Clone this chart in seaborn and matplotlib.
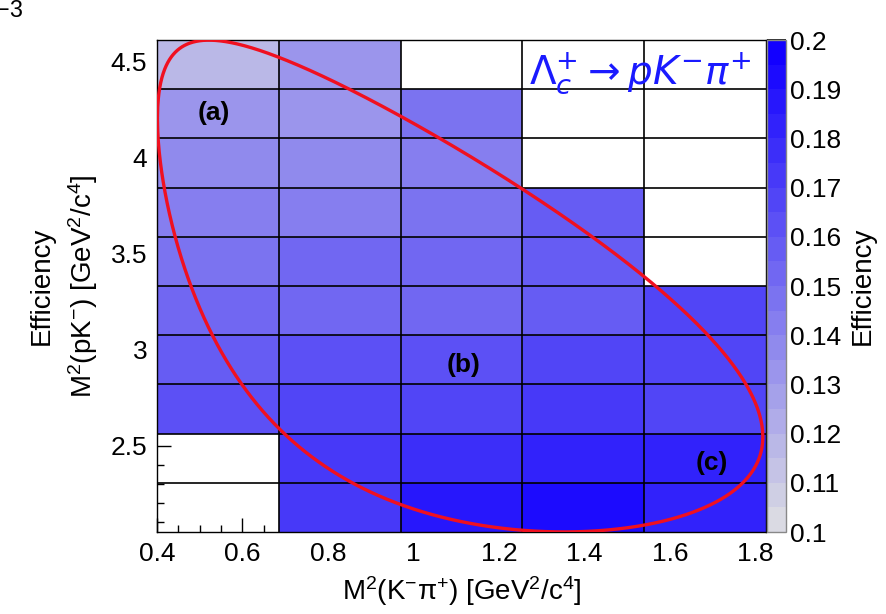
import numpy as np
import pandas as pd
import matplotlib
matplotlib.use("Agg")
import matplotlib.pyplot as plt
from matplotlib.colors import ListedColormap
import seaborn as sns

# ---------------- data ----------------
# bin edges of the efficiency map
x_edges = [0.40, 0.685, 0.97, 1.255, 1.54, 1.825]          # M^2(K- pi+)
y_edges = [2.050, 2.306, 2.562, 2.818, 3.074, 3.330,
           3.586, 3.842, 4.098, 4.354, 4.610]               # M^2(p K-)

# efficiency per cell, rows = y bins (bottom -> top), cols = x bins (left -> right)
# None = empty cell
eff_row0 = [None, 0.174, 0.188, 0.191, 0.181]
eff_row1 = [None, 0.173, 0.177, 0.182, 0.181]
eff_row2 = [0.163, 0.166, 0.166, 0.170, 0.169]
eff_row3 = [0.159, 0.160, 0.160, 0.165, 0.166]
eff_row4 = [0.153, 0.154, 0.154, 0.159, 0.165]
eff_row5 = [0.150, 0.152, 0.155, 0.157, None]
eff_row6 = [0.144, 0.145, 0.149, 0.157, None]
eff_row7 = [0.138, 0.139, 0.144, None, None]
eff_row8 = [0.133, 0.133, 0.149, None, None]
eff_row9 = [0.120, 0.133, None, None, None]
eff_rows = [eff_row0, eff_row1, eff_row2, eff_row3, eff_row4,
            eff_row5, eff_row6, eff_row7, eff_row8, eff_row9]

cbar_ticks = [0.10, 0.11, 0.12, 0.13, 0.14, 0.15, 0.16, 0.17, 0.18, 0.19, 0.20]
x_major = [0.4, 0.6, 0.8, 1.0, 1.2, 1.4, 1.6, 1.8]
y_major = [2.5, 3.0, 3.5, 4.0, 4.5]

# particle masses (GeV/c^2) for the Dalitz-plot kinematic boundary
m_Lc = 2.28646
m_p = 0.93827
m_K = 0.49368
m_pi = 0.13957

# ---------------- build table ----------------
xc = [(a + b) / 2 for a, b in zip(x_edges[:-1], x_edges[1:])]
yc = [(a + b) / 2 for a, b in zip(y_edges[:-1], y_edges[1:])]
recs = []
for j, row in enumerate(eff_rows):
    for i, v in enumerate(row):
        if v is not None:
            recs.append({"mkpi": xc[i], "mpk": yc[j], "eff": v})
df = pd.DataFrame(recs)

# ---------------- style ----------------
sns.set_theme(style="white")
plt.rcParams["font.family"] = ["Liberation Sans", "DejaVu Sans"]
plt.rcParams["mathtext.fontset"] = "custom"
plt.rcParams["mathtext.rm"] = "Liberation Sans"
plt.rcParams["mathtext.it"] = "Liberation Sans:italic"
plt.rcParams["mathtext.bf"] = "Liberation Sans:bold"
for k in ["text.color", "axes.labelcolor", "xtick.color", "ytick.color"]:
    plt.rcParams[k] = "black"

c0 = np.array([0.855, 0.855, 0.890])
c1 = np.array([0.070, 0.000, 1.000])
cmap = ListedColormap([tuple(c0 + (c1 - c0) * k / 19) for k in range(20)])

fig = plt.figure(figsize=(8.87, 6.14), dpi=100)
ax = fig.add_axes([157 / 887, 82 / 614, 609 / 887, 492 / 614])
cax = fig.add_axes([767 / 887, 82 / 614, 19 / 887, 492 / 614])

sns.histplot(data=df, x="mkpi", y="mpk", weights="eff",
             bins=[x_edges, y_edges], cmap=cmap, vmin=0.10, vmax=0.20,
             cbar=True, cbar_ax=cax, ax=ax)

# bin borders
for xe in x_edges[1:-1]:
    ax.axvline(xe, color="black", lw=1.2, zorder=3)
for ye in y_edges[1:-1]:
    ax.axhline(ye, color="black", lw=1.2, zorder=3)

# Dalitz boundary
s = np.linspace((m_K + m_pi) ** 2, (m_Lc - m_p) ** 2, 2000)
rs = np.sqrt(s)
EK = (s - m_pi ** 2 + m_K ** 2) / (2 * rs)
Ep = (m_Lc ** 2 - s - m_p ** 2) / (2 * rs)
pK = np.sqrt(np.clip(EK ** 2 - m_K ** 2, 0, None))
pp = np.sqrt(np.clip(Ep ** 2 - m_p ** 2, 0, None))
hi = (EK + Ep) ** 2 - (pK - pp) ** 2
lo = (EK + Ep) ** 2 - (pK + pp) ** 2
bx = np.concatenate([s, s[::-1], s[:1]])
by = np.concatenate([hi, lo[::-1], hi[:1]])
sns.lineplot(x=bx, y=by, sort=False, estimator=None, color="#f01020",
             lw=2.4, ax=ax, zorder=5)

ax.set_xlim(x_edges[0], x_edges[-1])
ax.set_ylim(y_edges[0], y_edges[-1])
ax.set_xticks(x_major)
ax.set_xticklabels(["0.4", "0.6", "0.8", "1", "1.2", "1.4", "1.6", "1.8"])
ax.set_yticks(y_major)
ax.set_yticklabels(["2.5", "3", "3.5", "4", "4.5"])
ax.set_xticks(np.arange(0.40, 1.826, 0.05), minor=True)
ax.set_yticks(np.arange(2.1, 4.61, 0.1), minor=True)
ax.tick_params(axis="both", which="major", direction="in", length=10, width=1,
               color="black", labelsize=19, pad=7)
ax.tick_params(axis="both", which="minor", direction="in", length=5, width=1,
               color="black")
ax.tick_params(axis="x", which="both", bottom=True, top=False)
ax.tick_params(axis="y", which="both", left=True, right=False)
for sp in ax.spines.values():
    sp.set_color("black")
    sp.set_linewidth(1.0)
    sp.set_visible(True)

ax.set_xlabel(r"M$^{2}$(K$^{-}$π$^{+}$) [GeV$^{2}$/c$^{4}$]", fontsize=20, labelpad=6)
ax.set_ylabel(r"M$^{2}$(pK$^{-}$) [GeV$^{2}$/c$^{4}$]", fontsize=20, labelpad=8)
ax.text(-0.19, 0.5, "Efficiency", transform=ax.transAxes, rotation=90,
        ha="center", va="center", fontsize=20)

# annotations
ax.text(0.533, 4.23, "(a)", fontsize=19, fontweight="bold", ha="center", va="center", zorder=6)
ax.text(1.118, 2.917, "(b)", fontsize=19, fontweight="bold", ha="center", va="center", zorder=6)
ax.text(1.699, 2.411, "(c)", fontsize=19, fontweight="bold", ha="center", va="center", zorder=6)
ax.text(1.53, 4.44, r"$\Lambda_{c}^{+}\rightarrow pK^{-}\pi^{+}$", color="#1a1aff",
        fontsize=28, ha="center", va="center", math_fontfamily="dejavusans", zorder=6)

fig.text(0.026, 0.995, r"10$^{-3}$", fontsize=24, ha="right", va="top")

# colorbar
cax.set_yticks(cbar_ticks)
cax.set_yticklabels(["0.1", "0.11", "0.12", "0.13", "0.14", "0.15", "0.16",
                     "0.17", "0.18", "0.19", "0.2"])
cax.tick_params(axis="y", which="both", direction="in", length=13.5, width=1.2,
                color="black", labelsize=19, pad=3, right=True, left=False)
cax.minorticks_off()
cax.set_ylabel("Efficiency", fontsize=20, labelpad=6)
for sp in cax.spines.values():
    sp.set_color("#888888")
    sp.set_linewidth(1.0)

fig.savefig("out.png", dpi=100)
